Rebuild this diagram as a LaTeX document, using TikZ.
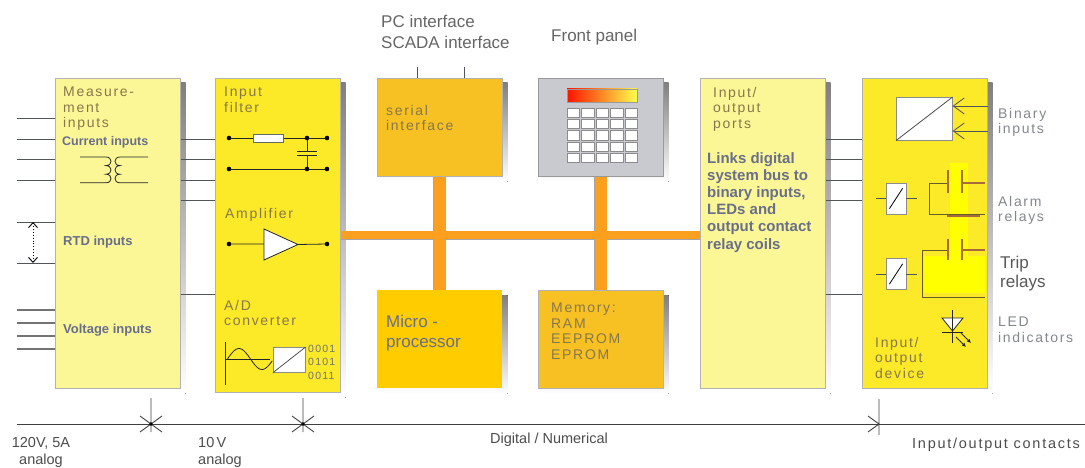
\documentclass[tikz,border=0pt]{standalone}
\usepackage{fontspec}
\setmainfont{Liberation Sans}
\newfontfamily\bookfont[LetterSpace=12]{Liberation Sans}
\usetikzlibrary{positioning, calc, arrows.meta, backgrounds}

\definecolor{paleyel}{RGB}{251,247,150}
\definecolor{brightyel}{RGB}{252,233,40}
\definecolor{amberyel}{RGB}{247,192,35}
\definecolor{microyel}{RGB}{255,204,0}
\definecolor{hiyel}{RGB}{255,255,0}
\definecolor{panelgrey}{RGB}{200,202,208}
\definecolor{busorange}{RGB}{250,160,30}
\definecolor{boxtext}{RGB}{135,120,75}
\definecolor{sidetext}{RGB}{130,135,142}
\definecolor{notetext}{RGB}{105,110,138}
\definecolor{wiregrey}{RGB}{80,85,90}
\definecolor{contactbrown}{RGB}{168,106,58}
\definecolor{frameolive}{RGB}{105,90,40}
\definecolor{shade}{RGB}{145,145,155}

\tikzset{
  blk/.style={draw=black!30, line width=.6pt, inner sep=0pt, anchor=north west},
  lbl/.style={inner sep=0pt, anchor=north west, align=left, text=boxtext,
    font=\bookfont\fontsize{14}{15.5}\selectfont},
  note/.style={lbl, text=notetext, font=\bfseries\fontsize{13}{15}\selectfont},
  side/.style={lbl, text=sidetext},
  headlbl/.style={lbl, text=black!60, font=\fontsize{17}{21}\selectfont},
  axislbl/.style={lbl, text=black!70, font=\fontsize{14.5}{17}\selectfont},
  wire/.style={wiregrey, line width=.8pt},
  circ/.style={black!85, line width=.8pt},
  coil/.style={draw=black!45, fill=white, line width=.6pt, inner sep=0pt,
    minimum width=20, minimum height=31},
  contact/.style={contactbrown, line width=2.4pt},
  axisline/.style={black!75, line width=.9pt},
}

\begin{document}
\begin{tikzpicture}[x=1pt, y=-1pt]
  \useasboundingbox (0,0) rectangle (1085,468);

  % blocks
  \node[blk, fill=paleyel, minimum width=125, minimum height=310] (meas) at (55,78) {};
  \node[blk, fill=brightyel, minimum width=125, minimum height=314] (filt) at (215,78) {};
  \node[blk, fill=amberyel, minimum width=125, minimum height=98] (serial) at (377,78) {};
  \node[blk, fill=microyel, draw=none, minimum width=125, minimum height=98] (micro) at (377,290) {};
  \node[blk, fill=panelgrey, draw=black!40, minimum width=125, minimum height=98] (panel) at (538,78) {};
  \node[blk, fill=amberyel, minimum width=125, minimum height=98] (memory) at (538,290) {};
  \node[blk, fill=paleyel, minimum width=125, minimum height=310] (ports) at (700,78) {};
  \node[blk, fill=brightyel, minimum width=125, minimum height=310] (device) at (862,78) {};

  % drop shadows behind the blocks
  \begin{scope}[on background layer]
    \foreach \b in {meas, filt, serial, micro, panel, memory, ports, device}
      \fill[shade] ([shift={(5,5)}]\b.north west) rectangle ([shift={(5,5)}]\b.south east);
  \end{scope}

  % system bus
  \foreach \e/\c in {1.2/black!35, 0/busorange} {
    \draw[\c, line width=8pt+\e*1pt] (filt.east) -- (filt.east -| ports.west);
    \draw[\c, line width=12pt+\e*1pt] (serial.south) -- (micro.north);
    \draw[\c, line width=12pt+\e*1pt] (panel.south) -- (memory.north);
  }

  % serial links
  \draw[wire, line width=.7pt] ([xshift=-22.5pt]serial.north) -- ++(0,-11);
  \draw[wire, line width=.7pt] ([xshift=24.5pt]serial.north) -- ++(0,-11);

  % front panel: display and keys
  \draw[black!40, left color=red!85!orange, right color=yellow!70] (567,89) rectangle (637,102);
  \foreach \i in {0,...,4}
    \foreach \j in {0,...,4}
      \draw[black!45, fill=white] ({567+14.5*\i},{108+11.3*\j}) rectangle ++(12.5,9.2);

  % inputs
  \foreach \y in {40,61,81,102,144,185}
    \draw[wire] ([yshift=-\y pt]meas.north west) -- ++(-38,0);
  \foreach \y in {232,245,258,271}
    \draw[black!55, line width=2.4pt] ([yshift=-\y pt]meas.north west) -- ++(-38,0);
  \coordinate (rtdA) at (33,222);
  \coordinate (rtdB) at (33,263);
  \draw[dotted, line width=.9pt, {Straight Barb[length=5pt,width=9pt]}-{Straight Barb[length=5pt,width=9pt]}] (rtdA) -- (rtdB);

  % links between units
  \foreach \y in {61,81,102,122,216} {
    \draw[wire] ([yshift=-\y pt]meas.north east) -- ([yshift=-\y pt]filt.north west);
    \draw[wire] ([yshift=-\y pt]ports.north east) -- ([yshift=-\y pt]device.north west);
  }

  % current transformer
  \draw[circ] (80,157) -- (106,157)
    to[out=0,in=0,looseness=2] ++(0,8.6) to[out=0,in=0,looseness=2] ++(0,8.6)
    to[out=0,in=0,looseness=2] ++(0,8.6) -- (80,182.8);
  \draw[circ] (148,157) -- (120,157)
    to[out=180,in=180,looseness=2] ++(0,8.6) to[out=180,in=180,looseness=2] ++(0,8.6)
    to[out=180,in=180,looseness=2] ++(0,8.6) -- (148,182.8);

  % input filter
  \draw[circ] (229,138) -- (253,138) (283,138) -- (327,138) (229,169) -- (327,169);
  \draw[black!60, fill=white, line width=.6pt] (253,134) rectangle (283,142);
  \draw[circ] (307,138) -- (307,151) (297,151) -- (317,151)
    (297,155) -- (317,155) (307,155) -- (307,169);
  \foreach \p in {(229,138),(307,138),(327,138),(229,169),(307,169),(327,169),(229,244),(327,244)}
    \fill \p circle (2.3);

  % amplifier
  \draw[circ] (229,244) -- (264,244) (298,244.5) -- (327,244);
  \draw[circ, fill=white] (264,229) -- (264,260) -- (298,244.5) -- cycle;

  % A/D converter
  \draw[circ] (225,342) -- (225,385) (225,359) -- (270,359);
  \draw[circ] plot[domain=0:350, samples=36, smooth] ({227.5+\x/360*46}, {359-10.5*sin(\x)});
  \node[coil, minimum width=32, minimum height=25, anchor=north west] (adc) at (273,347) {};
  \draw[black!75, line width=.7pt] (adc.south west) -- (adc.north east);

  % binary inputs
  \node[coil, minimum width=56, minimum height=43, anchor=north west] (conv) at (896,97) {};
  \draw[black!70, line width=.8pt] (conv.south west) -- (conv.north east);
  \foreach \y in {28,53}
    \draw[wire, -{Straight Barb[length=11pt,width=16pt]}] ([yshift=-\y pt]device.north east) -- ([yshift=-\y pt]device.north east -| conv.east);

  % relay coils
  \node[coil] (coilA) at (896,198.5) {};
  \node[coil] (coilB) at (896,274) {};
  \foreach \k in {coilA, coilB} {
    \draw[black, line width=.8pt] ($(\k.south west)!.18!(\k.north east)$) -- ($(\k.south west)!.82!(\k.north east)$);
    \draw[wire] (\k.west) -- ++(-10,0) (\k.east) -- ++(11,0);
  }

  % relay contacts
  \fill[hiyel] (950,163) rectangle (968,257);
  \fill[hiyel] (924,256) rectangle (985,293);
  \draw[frameolive, line width=.9pt] (948,183) -- (929,183) -- (929,214) -- (985,214);
  \draw[frameolive, line width=.9pt] (948,250) -- (922,250) -- (922,297) -- (985,297);
  \draw[contact] (948,170) -- (948,193) (962,170) -- (962,193);
  \draw[contact] (948,239) -- (948,260) (962,239) -- (962,260);
  \draw[contactbrown, line width=2pt] (962,183) -- (985,183) (962,250) -- (985,250);
  \draw[contactbrown, line width=2.2pt] (947,216) -- (980,216);

  % LED
  \draw[circ, fill=white] (942,318) -- (963,318) -- (952.5,331) -- cycle;
  \draw[circ] (942,332) -- (963,332) (952.5,310) -- (952.5,343);
  \draw[circ, -{Latex[length=4pt,width=4pt]}] (956,337) -- (966,347);
  \draw[circ, -{Latex[length=4pt,width=4pt]}] (961,333) -- (971,343);

  % labels
  \node[lbl] (measL) at (63,87) {Measure-\\ment\\inputs};
  \node[note, font=\bfseries\fontsize{12.5}{14}\selectfont] (curL) at (62,136) {Current inputs};
  \node[note] (rtdL) at (63,235.6) {RTD inputs};
  \node[note] (voltL) at (63,323.6) {Voltage inputs};
  \node[lbl] (filtL) at (224,87) {Input\\filter};
  \node[lbl] (ampL) at (225,208) {Amplifier};
  \node[lbl] (adL) at (224,300) {A/D\\converter};
  \node[lbl, text=black!55, font=\bookfont\fontsize{10.5}{13.5}\selectfont] (bitsL) at (308,344.5) {0001\\0101\\0011};
  \node[lbl] (serialL) at (386,105) {serial\\interface};
  \node[lbl, text=notetext, font=\fontsize{17}{20}\selectfont] (microL) at (386,315) {Micro -\\processor};
  \node[lbl] (memL) at (551,303) {Memory:\\RAM\\EEPROM\\EPROM};
  \node[lbl] (portsL) at (713,87) {Input/\\output\\ports};
  \node[note, font=\bfseries\fontsize{15}{17.2}\selectfont] (linksL) at (707,152) {Links digital\\system bus to\\binary inputs,\\LEDs and\\output contact\\relay coils};
  \node[lbl] (devL) at (875,337) {Input/\\output\\device};
  \node[side] (binL) at (998,108) {Binary\\inputs};
  \node[side] (alarmL) at (998,196) {Alarm\\relays};
  \node[side, text=black!65, font=\fontsize{17}{19}\selectfont] (tripL) at (1000,256) {Trip\\relays};
  \node[side] (ledL) at (998,317) {LED\\indicators};
  \node[headlbl] (pcL) at (381,15) {PC interface\\SCADA interface};
  \node[headlbl] (fpL) at (551,29) {Front panel};

  % signal levels
  \coordinate (axL) at (17,424);
  \coordinate (axR) at (1085,424);
  \draw[axisline] (axL) -- (axR);
  \foreach \x in {151,303} {
    \draw[axisline] (\x,398) -- (\x,432) (\x-11,416) -- (\x+11,432) (\x-11,432) -- (\x+11,416);
    \fill (\x,424) circle (1.8);
  }
  \draw[axisline] (879,399) -- (879,435) (868,416) -- (879,424) -- (868,432);
  \node[axislbl, anchor=north, align=center] (anaL) at (41,437.6) {120V, 5A\\analog};
  \node[axislbl] (lowL) at (198,437.6) {10\,V\\analog};
  \node[axislbl] (digL) at (490,432.6) {Digital / Numerical};
  \node[axislbl, font=\bookfont\fontsize{14.5}{17}\selectfont] (ioL) at (912,438) {Input/output contacts};
\end{tikzpicture}
\end{document}
